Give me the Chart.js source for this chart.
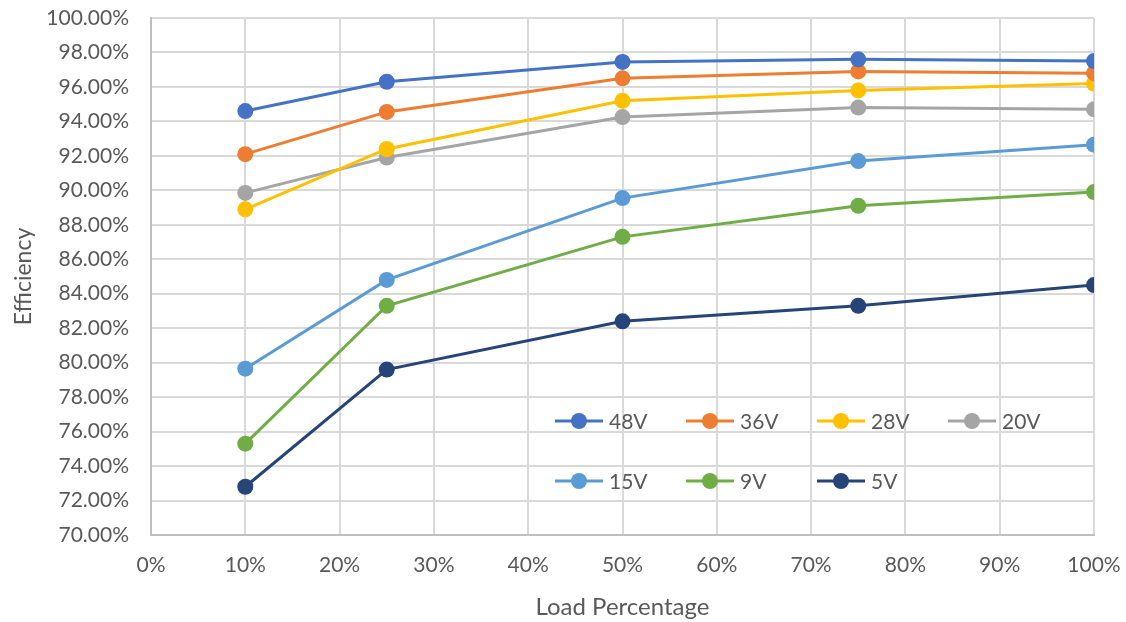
<!DOCTYPE html>
<html>
<head>
<meta charset="utf-8">
<script src="https://cdn.jsdelivr.net/npm/chart.js@4/dist/chart.umd.min.js"></script>
<style>
  html, body { margin: 0; padding: 0; background: #ffffff; }
  #wrap { width: 1126px; height: 622px; position: relative; }
</style>
</head>
<body>
<div id="wrap"><canvas id="c" width="1126" height="622"></canvas></div>
<script>
// Load points (% of full load)
const loads = [10, 25, 50, 75, 100];

// Efficiency (%) per input voltage
const eff48 = [94.6, 96.3, 97.45, 97.6, 97.5];
const eff36 = [92.1, 94.55, 96.5, 96.9, 96.8];
const eff28 = [88.9, 92.4, 95.2, 95.8, 96.2];
const eff20 = [89.85, 91.9, 94.25, 94.8, 94.7];
const eff15 = [79.65, 84.8, 89.55, 91.7, 92.65];
const eff9  = [75.3, 83.3, 87.3, 89.1, 89.9];
const eff5  = [72.8, 79.6, 82.4, 83.3, 84.5];

const seriesLabels = ['48V', '36V', '28V', '20V', '15V', '9V', '5V'];
const seriesValues = [eff48, eff36, eff28, eff20, eff15, eff9, eff5];
const seriesColors = ['#4472C4', '#ED7D31', '#FFC000', '#A5A5A5', '#5B9BD5', '#70AD47', '#264478'];

const FONT = 'Lato, "Open Sans", sans-serif';
const TEXT = '#595959';

const datasets = seriesLabels.map((lab, i) => ({
  label: lab,
  data: loads.map((x, j) => ({ x: x, y: seriesValues[i][j] })),
  borderColor: seriesColors[i],
  backgroundColor: seriesColors[i],
  borderWidth: 3,
  pointRadius: 8,
  pointHoverRadius: 8,
  pointBorderWidth: 0,
  tension: 0
}));

// Legend drawn inside the plot area, four entries per row
const insideLegend = {
  id: 'insideLegend',
  afterDraw(chart) {
    const ctx = chart.ctx;
    const a = chart.chartArea;
    const x0 = a.left + 404;
    const colW = 131;
    const rows = [a.top + 403, a.top + 463];
    ctx.save();
    ctx.font = '21px ' + FONT;
    ctx.textBaseline = 'middle';
    ctx.textAlign = 'left';
    chart.data.datasets.forEach((ds, i) => {
      const col = i % 4, row = Math.floor(i / 4);
      const x = x0 + col * colW;
      const y = rows[row];
      ctx.strokeStyle = ds.borderColor;
      ctx.lineWidth = 3;
      ctx.beginPath();
      ctx.moveTo(x, y);
      ctx.lineTo(x + 48, y);
      ctx.stroke();
      ctx.fillStyle = ds.backgroundColor;
      ctx.beginPath();
      ctx.arc(x + 24, y, 8, 0, Math.PI * 2);
      ctx.fill();
      ctx.fillStyle = TEXT;
      ctx.fillText(ds.label, x + 54, y + 1);
    });
    ctx.restore();
  }
};

new Chart(document.getElementById('c'), {
  type: 'line',
  data: { datasets: datasets },
  plugins: [insideLegend],
  options: {
    responsive: false,
    animation: false,
    layout: { padding: { top: 18, right: 32, bottom: 0, left: 0 } },
    plugins: {
      legend: { display: false },
      tooltip: { enabled: false }
    },
    scales: {
      x: {
        type: 'linear',
        min: 0,
        max: 100,
        ticks: {
          stepSize: 10,
          callback: v => v + '%',
          color: TEXT,
          font: { family: FONT, size: 21 },
          padding: 18
        },
        grid: { color: '#d9d9d9', lineWidth: 2, drawTicks: false },
        border: { color: '#bfbfbf', width: 2 },
        title: {
          display: true,
          text: 'Load Percentage',
          color: TEXT,
          font: { family: FONT, size: 24 },
          padding: { top: 6, bottom: 0 }
        },
        afterFit(scale) {
          scale.height = 87;
          scale.paddingLeft = 0;
          scale.paddingRight = 0;
        }
      },
      y: {
        min: 70,
        max: 100,
        ticks: {
          stepSize: 2,
          callback: v => v.toFixed(2) + '%',
          color: TEXT,
          font: { family: FONT, size: 21 },
          padding: 22
        },
        grid: { color: '#d9d9d9', lineWidth: 2, drawTicks: false },
        border: { color: '#bfbfbf', width: 2 },
        title: {
          display: true,
          text: 'Efficiency',
          color: TEXT,
          font: { family: FONT, size: 23 },
          padding: { top: 10, bottom: 0 }
        },
        afterFit(scale) {
          scale.width = 151;
          scale.paddingTop = 0;
          scale.paddingBottom = 0;
        }
      }
    }
  }
});
</script>
</body>
</html>
